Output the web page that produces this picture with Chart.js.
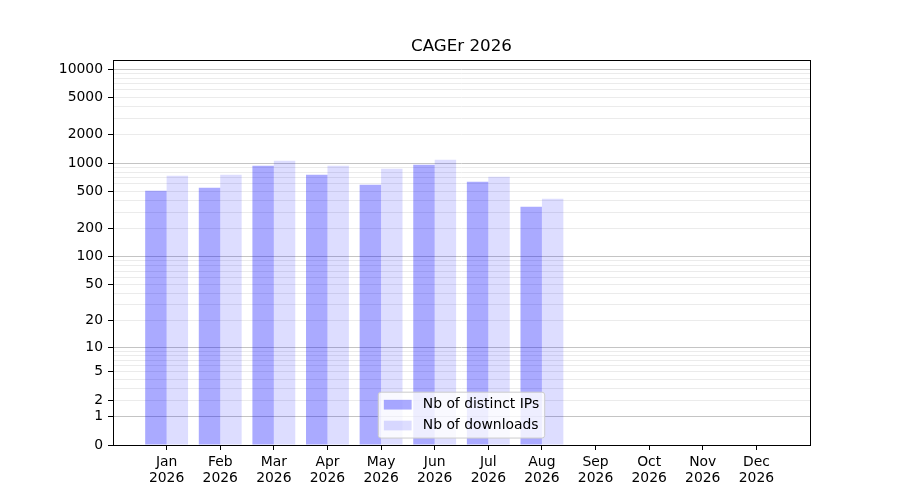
<!DOCTYPE html>
<html>
<head>
<meta charset="utf-8">
<script src="https://cdn.jsdelivr.net/npm/chart.js@4.4.1/dist/chart.umd.min.js"></script>
<style>
  html, body { margin: 0; padding: 0; background: #fff; }
</style>
</head>
<body>
<canvas id="chart" width="900" height="500"></canvas>
<script>
const months = ['Jan', 'Feb', 'Mar', 'Apr', 'May', 'Jun', 'Jul', 'Aug', 'Sep', 'Oct', 'Nov', 'Dec'];
const year = '2026';
const distinctIPs = [506, 545, 936, 750, 587, 958, 632, 342, 0, 0, 0, 0];
const downloads = [731, 750, 1058, 936, 869, 1084, 714, 416, 0, 0, 0, 0];
const yTickLabels = [0, 1, 2, 5, 10, 20, 50, 100, 200, 500, 1000, 2000, 5000, 10000];
const yMinorTicks = [3, 4, 6, 7, 8, 9, 30, 40, 60, 70, 80, 90, 300, 400, 600, 700, 800, 900,
  3000, 4000, 6000, 7000, 8000, 9000];
const yDecades = [1, 10, 100, 1000, 10000];
const yMax = 12500;

const FONT = "'DejaVu Sans', sans-serif";
const FS = 13.9;

// y axis drawn as log10(1 + v), like the matplotlib function scale
class Log1pScale extends Chart.Scale {
  static id = 'log1p';
  static defaults = {};

  parse(raw, index) {
    return Chart.LinearScale.prototype.parse.call(this, raw, index);
  }
  determineDataLimits() {
    const { min, max } = this.getMinMax(true);
    this.min = this.options.min ?? Math.max(0, min);
    this.max = this.options.max ?? max;
  }
  buildTicks() {
    const all = yTickLabels.concat(yMinorTicks).sort((a, b) => a - b);
    return all.filter(v => v >= this.min && v <= this.max).map(v => ({ value: v }));
  }
  configure() {
    super.configure();
    this._startValue = Math.log10(1 + this.min);
    this._valueRange = Math.log10(1 + this.max) - this._startValue;
  }
  getLabelForValue(value) {
    return String(value);
  }
  getPixelForValue(value) {
    if (value === undefined || value === null) value = this.min;
    return this.getPixelForDecimal((Math.log10(1 + value) - this._startValue) / this._valueRange);
  }
  getValueForPixel(pixel) {
    const d = this.getDecimalForPixel(pixel);
    return Math.pow(10, this._startValue + d * this._valueRange) - 1;
  }
}
Chart.register(Log1pScale);

const extras = {
  id: 'extras',
  afterDatasetsDraw(chart) {
    const { ctx, chartArea: a } = chart;
    ctx.save();
    ctx.strokeStyle = '#000';
    ctx.lineWidth = 1;
    ctx.strokeRect(a.left + 0.5, a.top + 0.5, a.right - a.left, a.bottom - a.top);
    ctx.restore();
  },
  afterDraw(chart) {
    const { ctx, chartArea: a } = chart;
    const cx = (a.left + a.right) / 2;
    ctx.save();
    // title
    ctx.fillStyle = '#000';
    ctx.font = `16.7px ${FONT}`;
    ctx.textAlign = 'center';
    ctx.textBaseline = 'alphabetic';
    ctx.fillText('CAGEr 2026', cx, 51);

    // legend, lower center inside the plot
    ctx.font = `${FS}px ${FONT}`;
    const ds = chart.data.datasets;
    const pad = 0.4 * FS, handleLen = 2 * FS, handleH = 0.7 * FS;
    const textPad = 0.8 * FS, rowH = FS, spacing = 0.5 * FS;
    const textW = Math.max(...ds.map(d => ctx.measureText(d.label).width));
    const w = 2 * pad + handleLen + textPad + textW;
    const h = 2 * pad + ds.length * rowH + (ds.length - 1) * spacing;
    const left = cx - w / 2;
    const top = a.bottom - 0.5 * FS - h;
    ctx.beginPath();
    ctx.roundRect(left, top, w, h, 0.2 * FS);
    ctx.fillStyle = 'rgba(255,255,255,0.8)';
    ctx.fill();
    ctx.strokeStyle = '#cccccc';
    ctx.lineWidth = 1;
    ctx.stroke();
    ctx.textAlign = 'left';
    ctx.textBaseline = 'middle';
    ds.forEach((d, i) => {
      const yc = top + pad + rowH / 2 + i * (rowH + spacing);
      ctx.fillStyle = d.backgroundColor;
      ctx.fillRect(left + pad, yc - handleH / 2, handleLen, handleH);
      ctx.fillStyle = '#000';
      ctx.fillText(d.label, left + pad + handleLen + textPad, yc);
    });
    ctx.restore();
  }
};

const toPoints = arr => arr.map((v, i) => ({ x: i, y: v }));

new Chart(document.getElementById('chart').getContext('2d'), {
  type: 'bar',
  data: {
    datasets: [{
      label: 'Nb of distinct IPs',
      data: toPoints(distinctIPs),
      backgroundColor: 'rgba(0,0,255,0.333)',
      borderWidth: 0,
      categoryPercentage: 0.8,
      barPercentage: 1.0
    }, {
      label: 'Nb of downloads',
      data: toPoints(downloads),
      backgroundColor: 'rgba(0,0,255,0.133)',
      borderWidth: 0,
      categoryPercentage: 0.8,
      barPercentage: 1.0
    }]
  },
  options: {
    responsive: false,
    animation: false,
    layout: { padding: { top: 60, right: 90, left: 0, bottom: 0 } },
    plugins: {
      legend: { display: false },
      title: { display: false },
      tooltip: { enabled: false }
    },
    scales: {
      x: {
        type: 'linear',
        min: -1,
        max: 12,
        offset: false,
        afterBuildTicks: scale => { scale.ticks = months.map((m, i) => ({ value: i })); },
        afterFit: scale => { scale.height = 55; },
        border: { display: false },
        grid: { offset: false, drawOnChartArea: false, drawTicks: true, tickLength: 5, color: '#000', lineWidth: 1 },
        ticks: {
          autoSkip: false,
          maxRotation: 0,
          padding: 4,
          color: '#000',
          font: { family: FONT, size: FS, lineHeight: 1.15 },
          callback: v => [months[v], year]
        }
      },
      y: {
        type: 'log1p',
        min: 0,
        max: yMax,
        afterFit: scale => { scale.width = 113; },
        border: { display: false },
        grid: {
          lineWidth: 1,
          tickLength: 5,
          color: c => c.tick.value === 0 ? 'rgba(0,0,0,0)'
            : yDecades.includes(c.tick.value) ? '#c4c4c4' : '#ebebeb',
          tickColor: c => yTickLabels.includes(c.tick.value) ? '#000' : 'rgba(0,0,0,0)'
        },
        ticks: {
          autoSkip: false,
          padding: 5,
          color: '#000',
          font: { family: FONT, size: FS },
          callback: v => yTickLabels.includes(v) ? String(v) : ''
        }
      }
    }
  },
  plugins: [extras]
});
</script>
</body>
</html>
